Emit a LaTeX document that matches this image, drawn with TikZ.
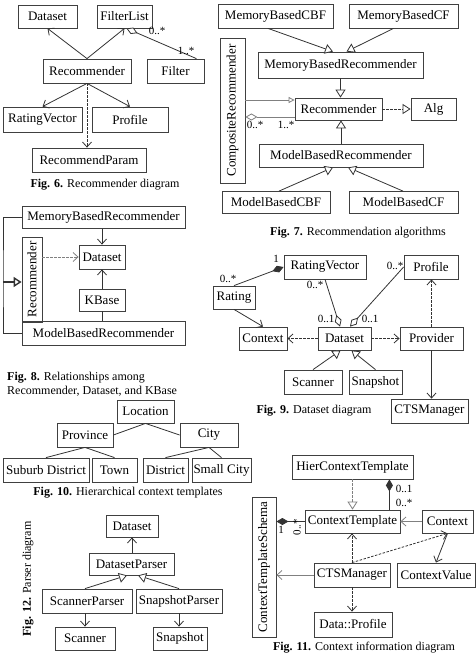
\documentclass[tikz,border=0pt]{standalone}
\usepackage{fontspec}
\setmainfont{Liberation Serif}
\usetikzlibrary{arrows.meta}

\newcommand{\boxfont}{\fontsize{13}{15}\selectfont}
\newcommand{\lblfont}{\fontsize{11}{12}\selectfont}
\newcommand{\capfont}{\fontsize{12}{14}\selectfont}

\tikzset{
  cls/.style={draw=black!75, line width=0.8pt, inner sep=0pt, font=\boxfont},
  sz/.style 2 args={minimum width=#1pt, minimum height=#2pt},
  lbl/.style={font=\lblfont, inner sep=0pt},
  figcap/.style={font=\capfont, inner sep=0pt},
  link/.style={draw=black!80, line width=0.8pt},
  dep/.style={link, dash pattern=on 2.5pt off 1.5pt},
  uses/.style={-{Straight Barb[length=5pt,width=9pt]}},
  isa/.style={-{Triangle[open,length=8pt,width=10pt,fill=white]}},
  owns/.style={-{Diamond[length=12pt,width=7pt]}},
  has/.style={-{Diamond[open,length=12pt,width=7pt,fill=white]}}
}

\begin{document}
\begin{tikzpicture}[x=1pt, y=-1pt]
\useasboundingbox (0,0) rectangle (476,658);

% Fig. 6
\node[cls, sz={59}{23}] (f6dataset) at (47.5,16.5) {Dataset};
\node[cls, sz={55}{23}] (f6filterlist) at (124.5,16.5) {FilterList};
\node[cls, sz={88}{24}] (f6rec) at (87,71) {Recommender};
\node[cls, sz={57}{24}] (f6filter) at (175.5,71) {Filter};
\node[cls, sz={79}{25}] (f6ratvec) at (42.5,119.5) {RatingVector};
\node[cls, sz={76}{25}] (f6profile) at (130,119.5) {Profile};
\node[cls, sz={114}{24}] (f6param) at (89,160) {RecommendParam};
\node[figcap] (f6cap) at (105,185) {\textbf{Fig. 6.} Recommender diagram};

\draw[link, uses] (f6rec.north) -- (f6dataset.south);
\draw[link, uses] (f6rec.north) -- (f6filterlist.south);
\draw[link, has] ([xshift=-8pt]f6filter.north east) -- ([xshift=2pt]f6filterlist.south);
\node[lbl] at (157,31) {0..*};
\node[lbl] at (186,51) {1..*};
\draw[link, uses] (f6rec.south) -- (f6ratvec.north);
\draw[link, uses] (f6rec.south) -- (f6profile.north);
\draw[dep, uses] (f6rec.south) -- (f6rec.south |- f6param.north);

% Fig. 7
\node[cls, sz={115}{24}] (f7memcbf) at (275.5,16) {MemoryBasedCBF};
\node[cls, sz={109}{24}] (f7memcf) at (403.5,16) {MemoryBasedCF};
\node[cls, sz={165}{26}] (f7memrec) at (340.5,65) {MemoryBasedRecommender};
\node[cls, sz={87}{22}] (f7rec) at (338.5,109) {Recommender};
\node[cls, sz={45}{22}] (f7alg) at (433.5,109) {Alg};
\node[cls, sz={164}{23}] (f7modrec) at (341,155.5) {ModelBasedRecommender};
\node[cls, sz={108}{22}] (f7modcbf) at (276,202.5) {ModelBasedCBF};
\node[cls, sz={109}{22}] (f7modcf) at (403.5,202.5) {ModelBasedCF};
\node[cls, sz={25}{145}] (f7comp) at (232.5,110.5) {\rotatebox{90}{CompositeRecommender}};
\node[figcap] (f7cap) at (358,233) {\textbf{Fig. 7.} Recommendation algorithms};

\draw[link, isa] ([xshift=-7.5pt]f7memcbf.south) -- ([xshift=-7.5pt]f7memrec.north);
\draw[link, isa] ([xshift=-10pt]f7memcf.south) -- ([xshift=6pt]f7memrec.north);
\draw[link, isa] (f7memrec.south) -- (f7memrec.south |- f7rec.north);
\draw[link, isa] (f7modrec.north) -- (f7modrec.north |- f7rec.south);
\draw[link, isa] ([xshift=3pt]f7modcbf.north) -- ([xshift=-8pt]f7modrec.south);
\draw[link, isa] ([xshift=-0.5pt]f7modcf.north) -- ([xshift=7pt]f7modrec.south);
\draw[dep, isa] (f7rec.east) -- (f7alg.west);
\draw[link, draw=gray, -{Triangle[open,length=6pt,width=6pt,fill=white]}]
  ([yshift=9pt]f7rec.west -| f7comp.east) -- ([yshift=9pt]f7rec.west);
\draw[link, draw=gray, has] ([yshift=-8pt]f7rec.west) -- ([yshift=-8pt]f7rec.west -| f7comp.east);
\node[lbl] at (255,125) {0..*};
\node[lbl] at (286,125) {1..*};

% Fig. 8
\node[cls, sz={163}{22}] (f8memrec) at (103.5,217.5) {MemoryBasedRecommender};
\node[cls, sz={20}{85}] (f8rec) at (32,279.5) {\rotatebox{90}{Recommender}};
\node[cls, sz={46}{24}] (f8dataset) at (102,257) {Dataset};
\node[cls, sz={46}{22}] (f8kbase) at (102,300) {KBase};
\node[cls, sz={163}{24}] (f8modrec) at (103.5,333) {ModelBasedRecommender};
\node[figcap, align=left, anchor=west] (f8cap) at (7,384.5)
  {\textbf{Fig. 8.} Relationships among\\Recommender, Dataset, and KBase};

\coordinate (f8bus) at (3,282);
\draw[link] (f8memrec.west) -| (f8bus) |- (f8modrec.west);
\draw[link, line width=1.4pt, isa] (f8bus) -- (f8rec.west |- f8bus);
\draw[link, uses] (f8dataset.north |- f8memrec.south) -- (f8dataset.north);
\draw[link, uses] (f8kbase.north) -- (f8dataset.south);
\draw[link] (f8kbase.south |- f8modrec.north) -- (f8kbase.south);
\draw[dep, draw=gray, uses] (f8rec.east |- f8dataset.west) -- (f8dataset.west);

% Fig. 9
\node[cls, sz={82}{24}] (f9ratvec) at (325,267) {RatingVector};
\node[cls, sz={54}{24}] (f9profile) at (431,267) {Profile};
\node[cls, sz={42}{23}] (f9rating) at (234,297.5) {Rating};
\node[cls, sz={48}{23}] (f9context) at (263,338.5) {Context};
\node[cls, sz={53}{23}] (f9dataset) at (344.5,338.5) {Dataset};
\node[cls, sz={63}{23}] (f9provider) at (431.5,338.5) {Provider};
\node[cls, sz={58}{24}] (f9scanner) at (313,382) {Scanner};
\node[cls, sz={53}{24}] (f9snapshot) at (375.5,382) {Snapshot};
\node[cls, sz={77}{24}] (f9cts) at (429.5,411) {CTSManager};
\node[figcap] (f9cap) at (314,411) {\textbf{Fig. 9.} Dataset diagram};

\draw[link, owns] (f9rating.north) -- (f9ratvec.west);
\node[lbl] at (228,279) {0..*};
\node[lbl] at (276,259) {1};
\draw[link, uses] (f9rating.south) -- (f9context.north);
\draw[dep, uses] (f9dataset.west) -- (f9context.east);
\draw[dep, uses] (f9dataset.east) -- (f9provider.west);
\draw[dep, uses] (f9provider.north) -- (f9provider.north |- f9profile.south);
\draw[link, uses] (f9provider.south) -- (f9provider.south |- f9cts.north);
\draw[link, has] (f9ratvec.south) -- ([xshift=-4.5pt]f9dataset.north);
\draw[link, has] (f9profile.west) -- ([xshift=5.5pt]f9dataset.north);
\node[lbl] at (315,285) {0..*};
\node[lbl] at (326,319) {0..1};
\node[lbl] at (395,266) {0..*};
\node[lbl] at (370,319) {0..1};
\draw[link, isa] (f9scanner.north) -- ([xshift=-4pt]f9dataset.south);
\draw[link, isa] (f9snapshot.north) -- ([xshift=7pt]f9dataset.south);

% Fig. 10
\node[cls, sz={57}{23}] (f10loc) at (145.5,411.5) {Location};
\node[cls, sz={56}{24}] (f10prov) at (85,435) {Province};
\node[cls, sz={58}{24}] (f10city) at (209,435) {City};
\node[cls, sz={86}{24}] (f10suburb) at (46,470) {Suburb District};
\node[cls, sz={45}{24}] (f10town) at (114.5,470) {Town};
\node[cls, sz={45}{24}] (f10district) at (165.5,470) {District};
\node[cls, sz={59}{24}] (f10small) at (221.5,470) {Small City};
\node[figcap] (f10cap) at (128,493) {\textbf{Fig. 10.} Hierarchical context templates};

\draw[link] (f10loc.south) -- (f10prov.east);
\draw[link] (f10loc.south) -- (f10city.west);
\draw[link] (f10prov.south) -- (f10suburb.north);
\draw[link] (f10prov.south) -- (f10town.north);
\draw[link] (f10city.south) -- (f10district.north);
\draw[link] (f10city.south) -- (f10small.north);

% Fig. 12
\node[cls, sz={52}{22}] (f12dataset) at (132,526) {Dataset};
\node[cls, sz={85}{22}] (f12parser) at (131.5,564) {DatasetParser};
\node[cls, sz={90}{24}] (f12scanparser) at (87,601) {ScannerParser};
\node[cls, sz={86}{24}] (f12snapparser) at (179,601) {SnapshotParser};
\node[cls, sz={60}{23}] (f12scanner) at (85,638.5) {Scanner};
\node[cls, sz={54}{23}] (f12snapshot) at (180,638.5) {Snapshot};
\node[figcap, rotate=90] (f12cap) at (28,579) {\textbf{Fig. 12.} Parser diagram};

\draw[link, uses] (f12dataset.south |- f12parser.north) -- (f12dataset.south);
\draw[link, isa] ([xshift=-2pt]f12scanparser.north) -- ([xshift=-4.5pt]f12parser.south);
\draw[link, isa] (f12snapparser.north) -- ([xshift=6.5pt]f12parser.south);
\draw[link, uses] (f12scanner.north |- f12scanparser.south) -- (f12scanner.north);
\draw[link, uses] (f12snapparser.south) -- (f12snapparser.south |- f12snapshot.north);

% Fig. 11
\node[cls, sz={121}{24}] (f11hier) at (352.5,467) {HierContextTemplate};
\node[cls, sz={24}{140}] (f11schema) at (264,567) {\rotatebox{90}{ContextTemplateSchema}};
\node[cls, sz={95}{23}] (f11tmpl) at (352.5,521.5) {ContextTemplate};
\node[cls, sz={51}{23}] (f11context) at (447.5,521.5) {Context};
\node[cls, sz={76}{24}] (f11cts) at (352,575) {CTSManager};
\node[cls, sz={78}{24}] (f11value) at (436,575) {ContextValue};
\node[cls, sz={78}{25}] (f11profile) at (353,624.5) {Data::Profile};
\node[figcap] (f11cap) at (364,648) {\textbf{Fig. 11.} Context information diagram};

\draw[dep, draw=gray, isa] (f11hier.south) -- (f11tmpl.north);
\draw[link, owns] ([xshift=-11pt]f11tmpl.north east) -- ([xshift=-24pt]f11hier.south east);
\node[lbl] at (404,489) {0..1};
\node[lbl] at (404,503) {0..*};
\draw[link, owns] (f11tmpl.west) -- (f11tmpl.west -| f11schema.east);
\node[lbl] at (281,530) {1};
\node[lbl, rotate=90] at (297,527) {0..*};
\draw[link, draw=gray, uses] (f11context.west) -- (f11tmpl.east);
\draw[dep, uses] (f11cts.north) -- (f11cts.north |- f11tmpl.south);
\draw[dep, uses] (f11cts.south) -- (f11cts.south |- f11profile.north);
\draw[dep, uses] (f11cts.north) -- (f11context.south);
\draw[link, uses] (f11context.south) -- (f11value.north);
\draw[link, draw=gray, uses] (f11cts.west) -- (f11cts.west -| f11schema.east);

\end{tikzpicture}
\end{document}
